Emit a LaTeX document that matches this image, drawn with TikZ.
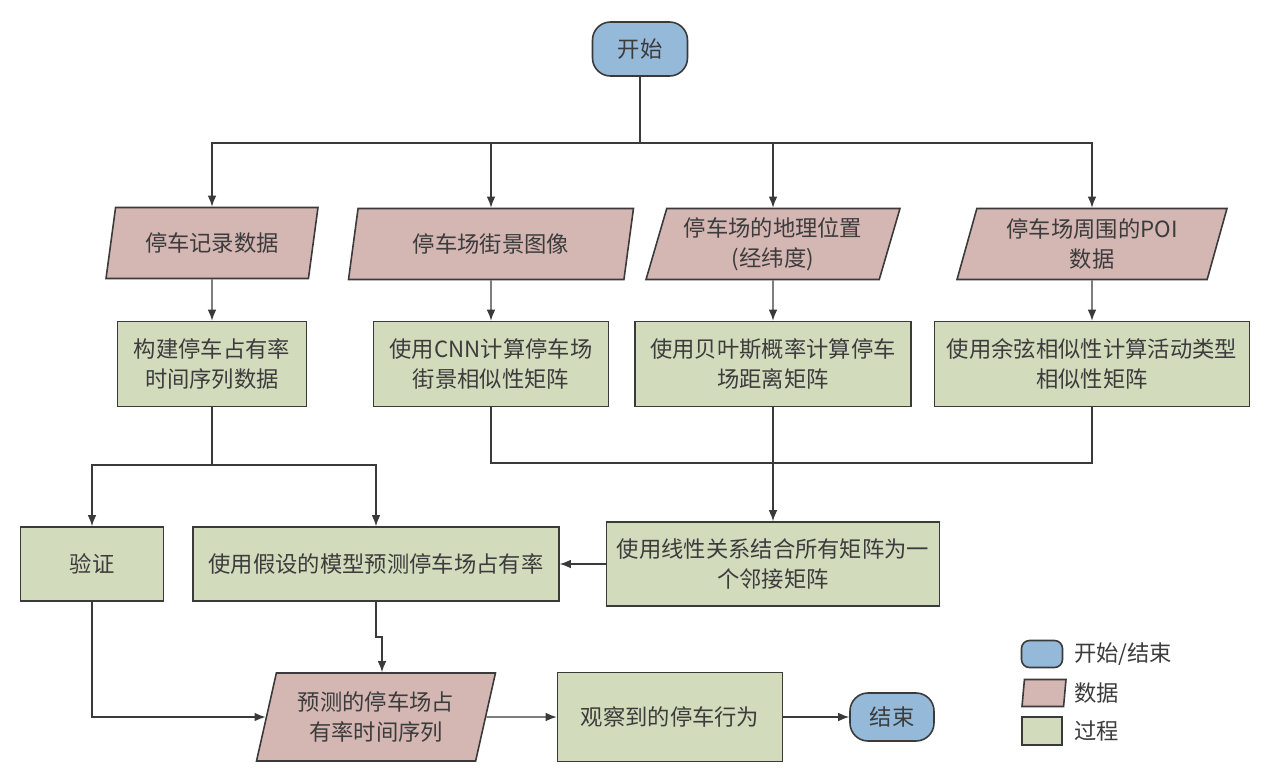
\documentclass[tikz,border=0pt]{standalone}
\usepackage{fontspec}
\setmainfont{Noto Sans CJK SC}
\usetikzlibrary{shapes.geometric, arrows.meta}

\definecolor{termblue}{HTML}{95B9D9}
\definecolor{datapink}{HTML}{D4B6B3}
\definecolor{procgreen}{HTML}{D2DCBD}
\definecolor{edgegray}{HTML}{3A3A3A}
\definecolor{textgray}{HTML}{3C3C3C}

\tikzset{
  base/.style={draw=edgegray, line width=0.9pt, text=textgray, align=center,
    inner sep=2pt, font=\fontsize{12.7}{17}\selectfont},
  term/.style={base, fill=termblue, rounded corners=0.36cm,
    minimum width=1.9cm, minimum height=1.08cm},
  data/.style={base, trapezium, trapezium left angle=71,
    trapezium right angle=109, trapezium stretches body=true,
    fill=datapink, minimum height=1.42cm},
  proc/.style={base, rectangle, fill=procgreen, minimum height=1.7cm},
  link/.style={draw=edgegray, line width=0.7pt},
  arr/.style={link, -{Latex[length=2.2mm, width=1.7mm]}},
  legtext/.style={text=textgray, anchor=west, font=\fontsize{12.7}{15}\selectfont},
}

\begin{document}
\begin{tikzpicture}[x=0.02cm, y=-0.02cm]
    \fill[white] (0,0) rectangle (1269,781);
    \useasboundingbox (0,0) rectangle (1269,781);
    % Start
    \node[term] (start) at (640,49) {开始};
    % Input data
    \node[data, minimum width=4.24cm] (rec) at (212,243) {停车记录数据};
    \node[data, minimum width=5.7cm] (img) at (491,244) {停车场街景图像};
    \node[data, minimum width=5.08cm] (geo) at (773,244) {停车场的地理位置\\(经纬度)};
    \node[data, minimum width=5.4cm] (poi) at (1092,244) {停车场周围的POI\\数据};
    % Processing of each source
    \node[proc, minimum width=3.78cm] (occ) at (212,364) {构建停车占有率\\时间序列数据};
    \node[proc, minimum width=4.7cm] (cnn) at (491,364) {使用CNN计算停车场\\街景相似性矩阵};
    \node[proc, minimum width=5.52cm] (bayes) at (773,364) {使用贝叶斯概率计算停车\\场距离矩阵};
    \node[proc, minimum width=6.3cm] (cos) at (1092,364) {使用余弦相似性计算活动类型\\相似性矩阵};
    % Model and validation
    \node[proc, minimum width=2.86cm, minimum height=1.48cm] (val) at (92,564) {验证};
    \node[proc, minimum width=7.32cm, minimum height=1.48cm] (pred) at (376,564) {使用假设的模型预测停车场占有率};
    \node[proc, minimum width=6.66cm, minimum height=1.68cm] (adj) at (773,564) {使用线性关系结合所有矩阵为一\\个邻接矩阵};
    % Output
    \node[data, minimum width=4.78cm, minimum height=1.76cm] (out) at (376,717) {预测的停车场占\\有率时间序列};
    \node[proc, minimum width=4.5cm, minimum height=1.78cm] (obs) at (670,717) {观察到的停车行为};
    \node[term, minimum width=1.68cm, minimum height=0.96cm] (stop) at (892,717) {结束};
    % Fork from start
    \coordinate (fork) at (640,143);
    \draw[link] (start) -- (fork);
    \foreach \n in {rec, img, geo, poi}{
      \draw[arr] (fork) -| (\n);
    }
    \draw[arr] (rec) -- (occ);
    \draw[arr] (img) -- (cnn);
    \draw[arr] (geo) -- (bayes);
    \draw[arr] (poi) -- (cos);
    % Matrices join
    \coordinate (join) at (773,463);
    \draw[link] (cnn) |- (join);
    \draw[link] (cos) |- (join);
    \draw[arr] (bayes) -- (adj);
    \draw[arr] (adj) -- (pred);
    % Occupancy split
    \coordinate (split) at (212,465);
    \draw[link] (occ) -- (split);
    \draw[arr] (split) -| (val);
    \draw[arr] (split) -| (pred);
    % Prediction
    \coordinate (jog) at (382,637);
    \draw[arr] (pred.south) |- (jog) -- (jog |- out.north);
    \draw[arr] (val) |- (out);
    \draw[arr] (out) -- (obs);
    \draw[arr] (obs) -- (stop);
    % Legend
    \node[term, minimum width=0.82cm, minimum height=0.54cm, rounded corners=0.16cm] (legterm) at (1042,654) {};
    \node[legtext] (legterml) at (1068,654) {开始/结束};
    \node[data, minimum width=0.88cm, minimum height=0.54cm] (legdata) at (1044,693) {};
    \node[legtext] (legdatal) at (1068,693) {数据};
    \node[proc, minimum width=0.8cm, minimum height=0.56cm] (legproc) at (1042,731) {};
    \node[legtext] (legprocl) at (1068,731) {过程};
\end{tikzpicture}
\end{document}
